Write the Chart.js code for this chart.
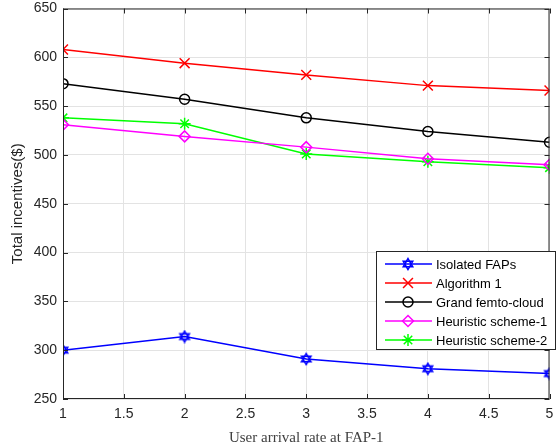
<!DOCTYPE html>
<html>
<head>
<meta charset="utf-8">
<script src="https://cdn.jsdelivr.net/npm/chart.js@4"></script>
<style>
  html, body { margin: 0; padding: 0; background: #fff; }
  #wrap { width: 558px; height: 447px; }
</style>
</head>
<body>
<div id="wrap"><canvas id="graf"></canvas></div>
<script>
const rates = [1, 2, 3, 4, 5]
const isolated = [300, 314, 291, 281, 276]
const algorithm1 = [608, 594, 582, 571, 566]
const grandCloud = [573, 557, 538, 524, 513]
const heuristic1 = [531, 519, 508, 496, 490]
const heuristic2 = [538, 532, 501, 493, 487]
const xTicks = [1, 1.5, 2, 2.5, 3, 3.5, 4, 4.5, 5]
const yTicks = [250, 300, 350, 400, 450, 500, 550, 600, 650]

// hexagram marker for "Isolated FAPs"
function hexagram(color) {
  const c = document.createElement('canvas')
  c.width = 14; c.height = 14
  const g = c.getContext('2d')
  g.strokeStyle = color
  g.lineWidth = 1.5
  const cx = 7, cy = 7, r = 5.5
  for (let k = 0; k < 2; k++) {
    g.beginPath()
    for (let i = 0; i < 3; i++) {
      const a = -Math.PI / 2 + k * Math.PI + i * 2 * Math.PI / 3
      const px = cx + r * Math.cos(a), py = cy + r * Math.sin(a)
      if (i === 0) g.moveTo(px, py); else g.lineTo(px, py)
    }
    g.closePath()
    g.stroke()
  }
  return c
}

function serie(label, values, color, style, radius) {
  return {
    label: label,
    data: rates.map((x, i) => ({ x: x, y: values[i] })),
    borderColor: color,
    backgroundColor: 'rgba(0,0,0,0)',
    borderWidth: 1.5,
    pointStyle: style,
    pointRadius: radius,
    pointBorderWidth: 1.5,
    pointBorderColor: color,
    pointBackgroundColor: 'rgba(0,0,0,0)',
    tension: 0
  }
}

const datasets = [
  serie('Isolated FAPs', isolated, '#0000ff', hexagram('#0000ff'), 5),
  serie('Algorithm 1', algorithm1, '#ff0000', 'crossRot', 7),
  serie('Grand femto-cloud', grandCloud, '#000000', 'circle', 5),
  serie('Heuristic scheme-1', heuristic1, '#ff00ff', 'rectRot', 5.5),
  serie('Heuristic scheme-2', heuristic2, '#00ff00', 'star', 6)
]

const boxPlugin = {
  id: 'boxPlugin',
  afterDraw(chart) {
    const ctx = chart.ctx
    const a = chart.chartArea
    const xs = chart.scales.x, ys = chart.scales.y
    ctx.save()
    ctx.strokeStyle = '#262626'
    ctx.lineWidth = 1
    ctx.strokeRect(a.left + 0.5, a.top + 0.5, a.right - a.left - 1, a.bottom - a.top - 1)
    ctx.beginPath()
    xTicks.forEach(v => {
      const px = Math.round(xs.getPixelForValue(v)) + 0.5
      ctx.moveTo(px, a.bottom); ctx.lineTo(px, a.bottom - 5)
      ctx.moveTo(px, a.top); ctx.lineTo(px, a.top + 5)
    })
    yTicks.forEach(v => {
      const py = Math.round(ys.getPixelForValue(v)) + 0.5
      ctx.moveTo(a.left, py); ctx.lineTo(a.left + 5, py)
      ctx.moveTo(a.right, py); ctx.lineTo(a.right - 5, py)
    })
    ctx.stroke()

    // legend box
    const lx = 376, ly = 251, lw = 180, lh = 99
    ctx.fillStyle = '#ffffff'
    ctx.fillRect(lx, ly, lw, lh)
    ctx.strokeStyle = '#262626'
    ctx.strokeRect(lx + 0.5, ly + 0.5, lw - 1, lh - 1)
    ctx.font = '13px "Liberation Sans", Arial, sans-serif'
    ctx.textBaseline = 'middle'
    ctx.textAlign = 'left'
    chart.data.datasets.forEach((ds, i) => {
      const y = 264 + i * 19
      ctx.strokeStyle = ds.borderColor
      ctx.lineWidth = 1.5
      ctx.beginPath()
      ctx.moveTo(385, y); ctx.lineTo(432, y)
      ctx.stroke()
      ctx.fillStyle = 'rgba(0,0,0,0)'
      Chart.helpers.drawPoint(ctx, {
        pointStyle: ds.pointStyle, rotation: 0, radius: ds.pointRadius, borderWidth: 1.5
      }, 408, y)
      ctx.fillStyle = '#000000'
      ctx.fillText(ds.label, 436, y + 1)
    })
    ctx.restore()
  }
}

new Chart(document.getElementById('graf'), {
  type: 'line',
  data: { datasets: datasets },
  options: {
    responsive: true,
    maintainAspectRatio: false,
    animation: false,
    layout: { padding: { top: 8, right: 2, left: 0, bottom: 0 } },
    plugins: { legend: { display: false }, tooltip: { enabled: false } },
    scales: {
      x: {
        type: 'linear',
        min: 1, max: 5,
        afterBuildTicks: s => { s.ticks = xTicks.map(v => ({ value: v })) },
        afterFit: s => { s.height = 48; s.paddingLeft = 0; s.paddingRight = 0 },
        grid: { color: '#e3e3e3', drawTicks: false },
        border: { display: false },
        ticks: {
          padding: 7,
          color: '#262626',
          callback: v => String(v),
          font: { family: '"Liberation Sans", Arial, sans-serif', size: 14 },
          maxRotation: 0
        },
        title: {
          display: true,
          text: 'User arrival rate at FAP-1',
          color: '#404040',
          padding: { top: 1, bottom: 0 },
          font: { family: '"Liberation Serif", "DejaVu Serif", serif', size: 15 }
        }
      },
      y: {
        min: 250, max: 650,
        afterBuildTicks: s => { s.ticks = yTicks.map(v => ({ value: v })) },
        afterFit: s => { s.width = 63; s.paddingTop = 0; s.paddingBottom = 0 },
        grid: { color: '#e3e3e3', drawTicks: false },
        border: { display: false },
        ticks: {
          padding: 6,
          color: '#262626',
          font: { family: '"Liberation Sans", Arial, sans-serif', size: 14 }
        },
        title: {
          display: true,
          text: 'Total incentives($)',
          color: '#262626',
          padding: { top: 9, bottom: 0 },
          font: { family: '"Liberation Sans", Arial, sans-serif', size: 15 }
        }
      }
    }
  },
  plugins: [boxPlugin]
})
</script>
</body>
</html>
